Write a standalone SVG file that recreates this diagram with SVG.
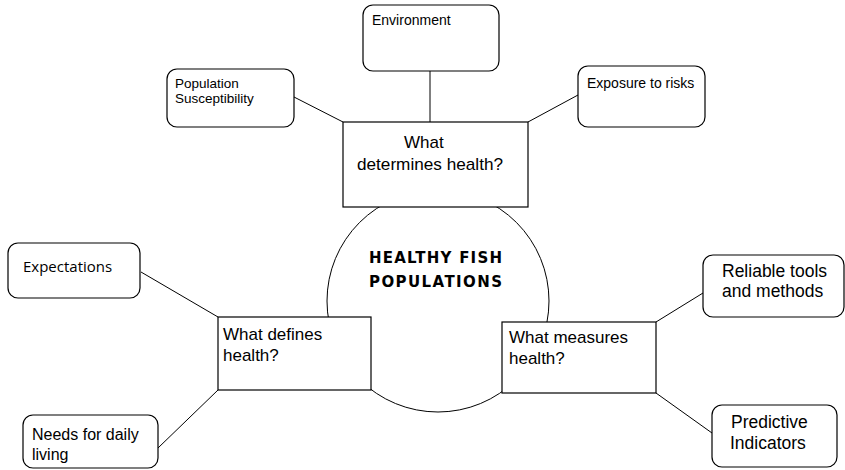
<svg xmlns="http://www.w3.org/2000/svg" width="845" height="470" viewBox="0 0 845 470">
<style>
.bg{fill:#fff}
.rbox{fill:#fff;stroke:#000;stroke-width:1.2}
.box{fill:#fff;stroke:#000;stroke-width:1.2}
.circ{fill:#fff;stroke:#000;stroke-width:1}
.edge{stroke:#000;stroke-width:1;fill:none}
.t{font-family:"Liberation Sans",Arial,sans-serif;fill:#000}
.s14{font-size:14px}
.s16{font-size:16px}
.s17{font-size:17px}
.h{font-family:"Open Sans","Noto Sans",sans-serif;fill:#000}
.title{font-family:"DejaVu Sans","Open Sans",sans-serif;font-weight:bold;font-size:15px;fill:#000}
</style>
<rect class="bg" x="0" y="0" width="845" height="470"/>
<g id="hub">
  <circle class="circ" cx="438" cy="301" r="111"/>
  <text class="title" x="369" y="263" textLength="133" lengthAdjust="spacing">HEALTHY FISH</text>
  <text class="title" x="369" y="287" textLength="133" lengthAdjust="spacing">POPULATIONS</text>
</g>
<g id="connectors">
  <line class="edge" x1="430" y1="71" x2="430" y2="122"/>
  <line class="edge" x1="294" y1="97" x2="343" y2="122"/>
  <line class="edge" x1="578" y1="95" x2="528" y2="122"/>
  <line class="edge" x1="141" y1="272" x2="218" y2="317"/>
  <line class="edge" x1="158" y1="448" x2="218" y2="390"/>
  <line class="edge" x1="656" y1="322" x2="703" y2="293"/>
  <line class="edge" x1="656" y1="393" x2="712" y2="433"/>
</g>
<g id="determines">
  <rect class="box" x="343" y="122" width="185" height="85"/>
  <text class="t s17" x="404" y="148">What</text>
  <text class="t s17" x="357" y="170" textLength="146" lengthAdjust="spacingAndGlyphs">determines health?</text>
</g>
<g id="defines">
  <rect class="box" x="218" y="317" width="153" height="73"/>
  <text class="t s17" x="223" y="340">What defines</text>
  <text class="t s17" x="223" y="361">health?</text>
</g>
<g id="measures">
  <rect class="box" x="502" y="322" width="154" height="71"/>
  <text class="t s17" x="509" y="343">What measures</text>
  <text class="t s17" x="509" y="364">health?</text>
</g>
<g id="environment">
  <rect class="rbox" x="363" y="5" width="136" height="66" rx="10"/>
  <text class="t s14" x="372" y="25">Environment</text>
</g>
<g id="population">
  <rect class="rbox" x="167" y="69" width="127" height="58" rx="10"/>
  <text class="t" font-size="13.5" x="175" y="88">Population</text>
  <text class="t" font-size="13.5" x="175" y="103">Susceptibility</text>
</g>
<g id="exposure">
  <rect class="rbox" x="578" y="66" width="127" height="61" rx="10"/>
  <text class="t s14" x="587" y="88">Exposure to risks</text>
</g>
<g id="expectations">
  <rect class="rbox" x="8" y="243" width="132" height="55" rx="10"/>
  <text class="h" font-size="15" x="23" y="272">Expectations</text>
</g>
<g id="needs">
  <rect class="rbox" x="23" y="415" width="135" height="53" rx="10"/>
  <text class="t s16" x="32" y="440">Needs for daily</text>
  <text class="t s16" x="32" y="460">living</text>
</g>
<g id="reliable">
  <rect class="rbox" x="703" y="255" width="141" height="62" rx="10"/>
  <text class="t" font-size="17.5" x="722" y="277">Reliable tools</text>
  <text class="t" font-size="17.5" x="722" y="297">and methods</text>
</g>
<g id="predictive">
  <rect class="rbox" x="712" y="405" width="125" height="62" rx="10"/>
  <text class="t" font-size="17.5" x="731" y="428">Predictive</text>
  <text class="t" font-size="17.5" x="730" y="449">Indicators</text>
</g>
</svg>
